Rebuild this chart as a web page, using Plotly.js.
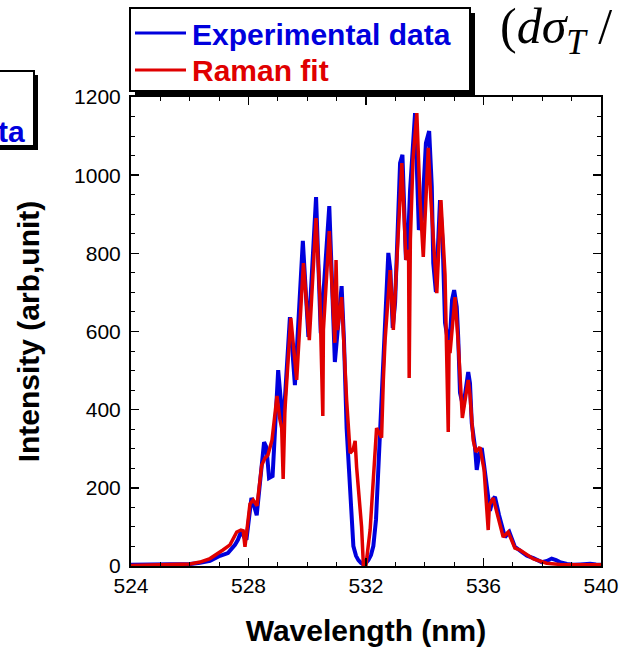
<!DOCTYPE html>
<html>
<head>
<meta charset="utf-8">
<script src="https://cdn.plot.ly/plotly-3.0.1.min.js"></script>
<style>html,body{margin:0;padding:0;background:#fff;}#chart{width:619px;height:648px;}</style>
</head>
<body>
<div id="chart"></div>
<script>
// Experimental data (wavelength nm, intensity arb. unit)
var wlExp = [524.00,524.65,525.33,526.01,526.35,526.69,527.03,527.30,527.54,527.64,
  527.76,527.85,527.93,528.10,528.19,528.28,528.53,528.61,528.70,528.82,
  529.01,529.09,529.18,529.41,529.58,529.85,530.04,530.30,530.46,530.75,
  530.94,531.17,531.25,531.34,531.46,531.57,531.66,531.74,531.83,531.91,
  532.00,532.08,532.17,532.25,532.34,532.42,532.51,532.61,532.68,532.76,
  532.83,532.91,532.99,533.09,533.16,533.24,533.36,533.44,533.50,533.67,
  533.80,533.90,534.04,534.15,534.24,534.29,534.38,534.52,534.61,534.69,
  534.80,534.88,534.93,535.00,535.09,535.14,535.20,535.31,535.40,535.48,
  535.54,535.60,535.71,535.77,535.85,535.94,536.02,536.16,536.22,536.31,
  536.39,536.53,536.73,536.88,536.97,537.07,537.30,537.48,537.70,537.98,
  538.16,538.32,538.47,538.60,538.84,539.06,539.29,539.63,539.83,540.00];
var intExp = [3,3,4,5,8,13,26,33,54,67,
  90,74,67,174,154,130,317,304,225,230,
  501,437,356,637,463,832,586,944,596,921,
  522,716,578,353,215,51,26,15,8,4,
  8,15,28,51,118,246,374,558,681,801,
  757,609,673,885,1031,1052,783,847,962,1159,
  860,885,1082,1113,970,775,701,936,826,622,
  571,612,681,706,663,583,443,407,463,496,
  468,366,304,246,284,302,258,177,141,169,
  177,130,74,87,67,49,36,26,20,10,
  13,19,15,10,5,3,4,6,4,3];

// Raman fit
var wlFit = [524.00,524.99,526.01,526.35,526.69,527.13,527.37,527.60,527.74,527.82,
  527.88,528.05,528.16,528.29,528.45,528.56,528.66,528.80,528.90,528.97,
  529.07,529.13,529.18,529.24,529.44,529.64,529.87,530.07,530.30,530.43,
  530.53,530.55,530.75,530.94,530.98,531.03,531.17,531.34,531.46,531.56,
  531.63,531.68,531.85,531.91,532.00,532.07,532.14,532.36,532.53,532.59,
  532.65,532.82,532.93,533.22,533.36,533.45,533.47,533.51,533.60,533.73,
  533.84,533.95,534.12,534.21,534.41,534.55,534.69,534.80,534.83,534.86,
  535.03,535.14,535.28,535.48,535.54,535.65,535.74,535.88,536.02,536.16,
  536.20,536.33,536.49,536.67,536.84,537.07,537.24,537.70,538.15,538.60,
  539.29,540.00];
var intFit = [1,3,5,10,19,41,54,87,92,90,
  49,159,169,154,258,276,284,322,399,435,
  374,353,223,399,635,476,775,578,890,688,
  384,604,857,571,783,604,688,425,289,297,
  320,253,100,3,3,41,92,353,328,476,
  578,757,604,1031,783,809,481,834,1039,1159,
  936,791,1070,936,698,936,745,343,578,545,
  688,571,379,476,438,322,292,304,246,92,
  156,174,130,74,87,46,41,18,7,4,
  3,3];

var seriesNames = ['Experimental data', 'Raman fit'];
var xTitle = 'Wavelength (nm)';
var yTitle = 'Intensity (arb,unit)';

var BLUE = '#0000dd', RED = '#e00000';

var traces = [
  {x: wlExp, y: intExp, type: 'scatter', mode: 'lines', name: seriesNames[0],
   line: {color: BLUE, width: 4}, showlegend: false},
  {x: wlFit, y: intFit, type: 'scatter', mode: 'lines', name: seriesNames[1],
   line: {color: RED, width: 3.5}, showlegend: false}
];

var L = 131, T = 97, PW = 470, PH = 469;
function px(x){ return (x - L) / PW; }
function py(y){ return (T + PH - y) / PH; }

var axisCommon = {
  showgrid: false, zeroline: false, showline: true, linecolor: 'black', linewidth: 2,
  mirror: 'ticks', ticks: 'inside', ticklen: 8, tickwidth: 1.5, tickcolor: 'black',
  tickfont: {family: 'Arial, Liberation Sans, sans-serif', size: 21, color: 'black'}
};

var layout = {
  width: 619, height: 648,
  margin: {l: L, r: 619 - L - PW, t: T, b: 648 - T - PH},
  paper_bgcolor: 'white', plot_bgcolor: 'white',
  showlegend: false,
  xaxis: Object.assign({}, axisCommon, {
    range: [524, 540], tickmode: 'linear', tick0: 524, dtick: 4,
    minor: {dtick: 1, ticks: 'inside', ticklen: 4, tickwidth: 1, tickcolor: 'black', showgrid: false},
    title: {text: '<b>' + xTitle + '</b>', standoff: 24,
            font: {family: 'Arial, Liberation Sans, sans-serif', size: 30, color: 'black'}}
  }),
  yaxis: Object.assign({}, axisCommon, {
    range: [0, 1200], tickmode: 'linear', tick0: 0, dtick: 200, ticklabelstandoff: 4,
    minor: {dtick: 50, ticks: 'inside', ticklen: 4, tickwidth: 1, tickcolor: 'black', showgrid: false},
    title: {text: '<b>' + yTitle + '</b>', standoff: 26,
            font: {family: 'Arial, Liberation Sans, sans-serif', size: 30, color: 'black'}}
  }),
  shapes: [
    // main legend shadow + box
    {type: 'rect', xref: 'paper', yref: 'paper', x0: px(135), x1: px(475), y0: py(96), y1: py(13),
     fillcolor: 'black', line: {width: 0}, layer: 'above'},
    {type: 'rect', xref: 'paper', yref: 'paper', x0: px(130), x1: px(470), y0: py(91), y1: py(8),
     fillcolor: 'white', line: {color: 'black', width: 2}, layer: 'above'},
    {type: 'line', xref: 'paper', yref: 'paper', x0: px(135), x1: px(186), y0: py(33), y1: py(33),
     line: {color: BLUE, width: 3}, layer: 'above'},
    {type: 'line', xref: 'paper', yref: 'paper', x0: px(135), x1: px(186), y0: py(70), y1: py(70),
     line: {color: RED, width: 3}, layer: 'above'},
    // partial legend box at the left edge
    {type: 'rect', xref: 'paper', yref: 'paper', x0: px(-30), x1: px(38), y0: py(150), y1: py(75),
     fillcolor: 'black', line: {width: 0}, layer: 'above'},
    {type: 'rect', xref: 'paper', yref: 'paper', x0: px(-30), x1: px(34), y0: py(146), y1: py(71),
     fillcolor: 'white', line: {color: 'black', width: 2}, layer: 'above'}
  ],
  annotations: [
    {xref: 'paper', yref: 'paper', x: px(190), y: py(34), xanchor: 'left', yanchor: 'middle',
     showarrow: false, text: '<b>' + seriesNames[0] + '</b>',
     font: {family: 'Arial, Liberation Sans, sans-serif', size: 30, color: BLUE}},
    {xref: 'paper', yref: 'paper', x: px(190), y: py(71), xanchor: 'left', yanchor: 'middle',
     showarrow: false, text: '<b>' + seriesNames[1] + '</b>',
     font: {family: 'Arial, Liberation Sans, sans-serif', size: 30, color: RED}},
    {xref: 'paper', yref: 'paper', x: px(27), y: py(131), xanchor: 'right', yanchor: 'middle',
     showarrow: false, text: '<b>ta</b>',
     font: {family: 'Arial, Liberation Sans, sans-serif', size: 30, color: BLUE}},
    {xref: 'paper', yref: 'paper', x: px(498), y: py(30), xanchor: 'left', yanchor: 'middle',
     showarrow: false, text: '(<i>dσ</i><sub><i>T</i></sub> /',
     font: {family: 'Liberation Serif, Times New Roman, serif', size: 50, color: 'black'}}
  ]
};

Plotly.newPlot('chart', traces, layout, {displayModeBar: false, staticPlot: true});
</script>
</body>
</html>
